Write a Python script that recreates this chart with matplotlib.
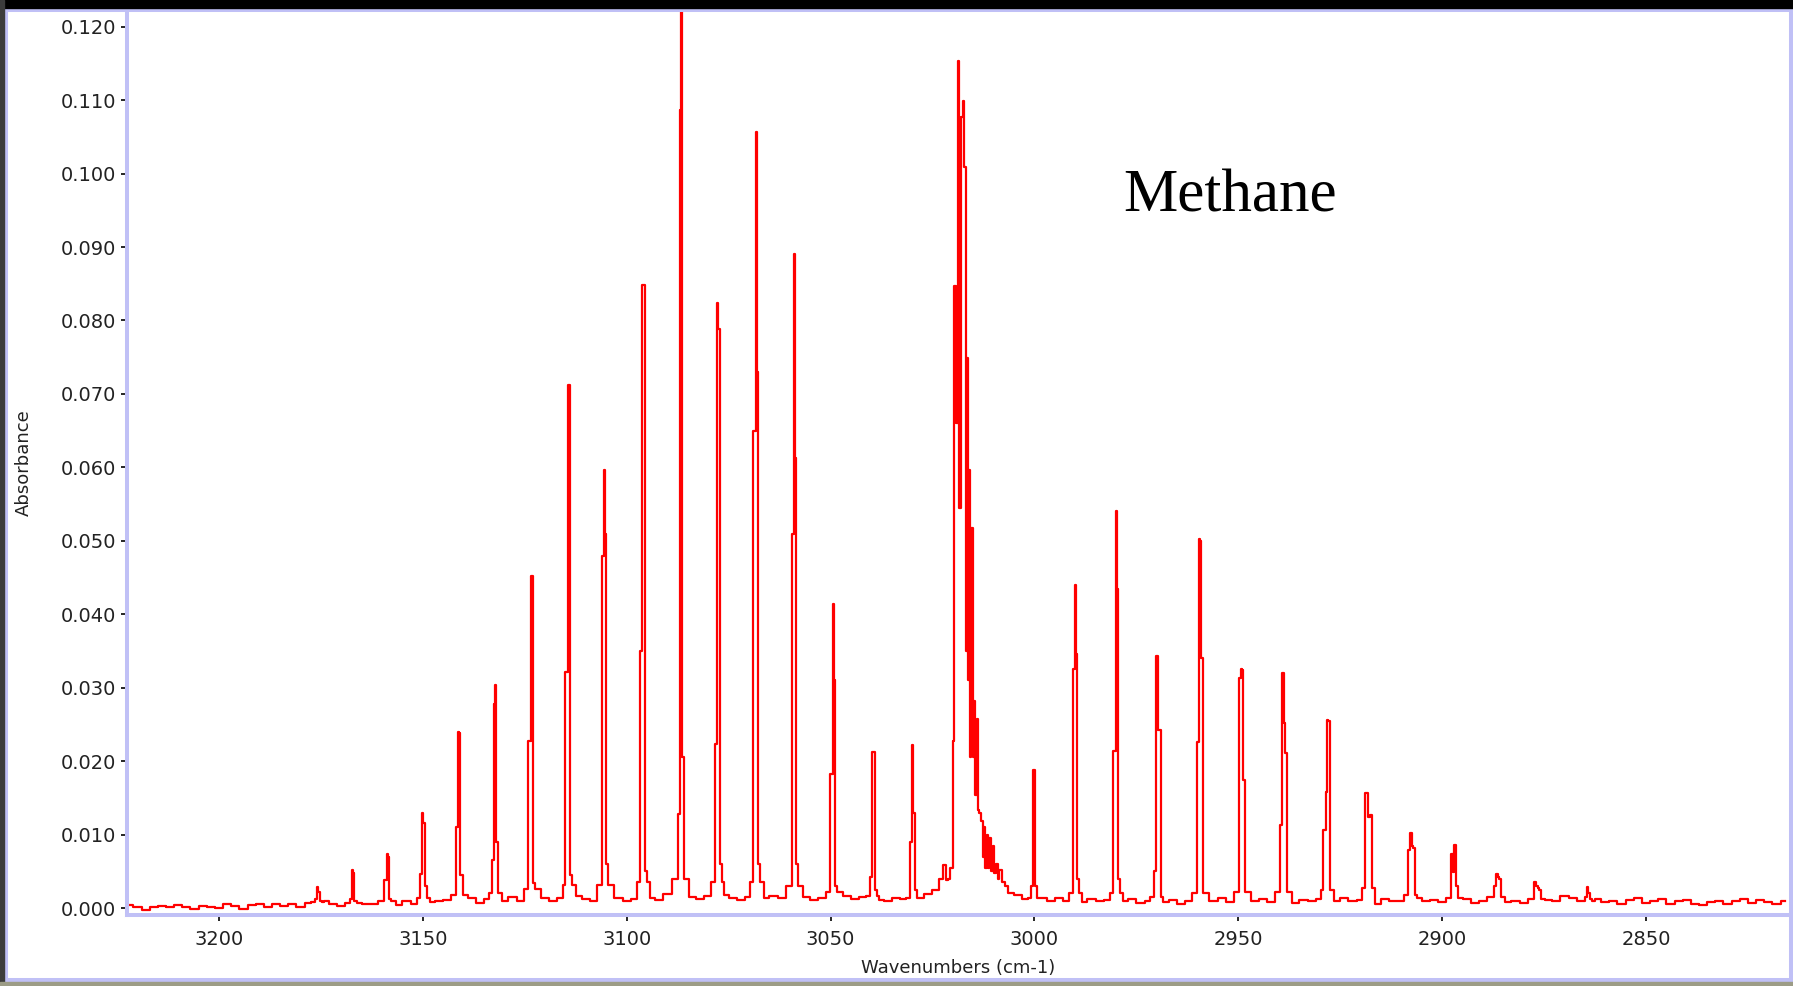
import numpy as np
import matplotlib
matplotlib.use('Agg')
import matplotlib.pyplot as plt
from matplotlib.patches import Rectangle
from matplotlib.ticker import MultipleLocator, FormatStrFormatter

# baseline read every 2 cm-1 (x 0.001 absorbance)
base_wn = np.arange(3222, 2815, -2)
base_abs = np.array([
    0.4, 0.1, -0.3, 0.2, 0.3, 0.1, 0.4, 0.2, -0.1, 0.3,
    0.2, 0.0, 0.5, 0.3, -0.2, 0.4, 0.6, 0.2, 0.5, 0.3,
    0.6, 0.2, 0.7, 0.4, 0.9, 0.5, 0.3, 0.8, -0.4, 0.6,
    0.5, 0.9, 0.7, 0.4, 1.0, 0.6, 1.2, 0.8, 0.9, 1.1,
    1.0, 0.8, 1.3, 0.7, 1.2, 0.9, 1.0, 1.5, 0.9, 1.1,
    1.2, 1.4, 1.0, 1.3, 1.1, 1.6, 1.2, 1.0, 1.4, 1.5,
    1.3, 1.0, 1.2, 1.6, 1.4, 1.1, 1.9, 1.4, 1.7, 1.5,
    1.2, 1.6, 1.3, 1.8, 1.4, 1.1, 1.5, 1.7, 1.3, 1.6,
    1.4, 1.2, 1.7, 1.5, 1.1, 1.3, 1.8, 1.4, 1.6, 1.2,
    1.5, 1.3, 1.1, 1.0, 1.4, 1.2, 1.6, 1.3, 1.9, 2.5,
    4.5, 5.0, 6.0, 8.0, 8.0, 6.0, 5.0, 3.5, 2.5, 1.8,
    1.2, 1.1, 1.4, 0.9, 1.3, 1.0, 1.5, 0.8, 1.2, 1.0,
    1.1, 1.4, 0.9, 1.2, 0.7, 1.0, 1.3, 0.8, 1.1, 0.6,
    1.0, 1.2, 0.7, 0.9, 1.3, 0.8, 1.1, 1.4, 0.9, 1.2,
    0.8, 1.0, 1.3, 0.7, 1.1, 0.9, 1.2, 0.6, 1.0, 1.3,
    0.9, 1.1, 0.7, 0.5, 1.2, 0.9, 1.0, 0.8, 1.3, 0.9,
    1.1, 0.8, 1.4, 0.9, 1.2, 0.7, 1.0, 1.5, 1.1, 0.8,
    1.0, 0.7, 1.2, 0.8, 1.1, 0.9, 1.6, 1.3, 1.0, 0.9,
    1.2, 0.8, 1.0, 0.6, 1.1, 1.3, 0.7, 0.9, 1.2, 0.5,
    0.9, 1.1, 0.6, 0.4, 0.8, 1.0, 0.5, 0.9, 1.2, 0.7,
    1.1, 0.8, 0.6, 0.9,
]) / 1000

# rotational lines: centre, outer shoulder (high wn), core hi, core lo, outer shoulder (low wn), foot
peak_wn = [3175.6, 3167.1, 3158.6, 3149.9, 3141.1, 3132.3, 3123.3, 3114.2, 3105.3, 3095.9,
           3086.7, 3077.5, 3068.1, 3058.7, 3049.2, 3039.5, 3029.7,
           3000.1, 2989.8, 2979.8, 2969.9, 2959.4, 2949.1, 2938.9, 2928.3, 2918.1,
           2907.5, 2897.0, 2886.4, 2876.6, 2864.1]
peak_s1 = [0.0012, 0.0012, 0.0038, 0.0046, 0.0110, 0.0066, 0.0227, 0.0322, 0.0479, 0.0350,
           0.0128, 0.0223, 0.0649, 0.0509, 0.0182, 0.0042, 0.0090,
           0.0030, 0.0326, 0.0214, 0.0050, 0.0226, 0.0313, 0.0113, 0.0106, 0.0156,
           0.0079, 0.0074, 0.0030, 0.0036, 0.0015]
peak_c1 = [0.0028, 0.0052, 0.0074, 0.0130, 0.0240, 0.0278, 0.0452, 0.0712, 0.0596, 0.0848,
           0.1087, 0.0824, 0.1056, 0.0891, 0.0414, 0.0212, 0.0222,
           0.0188, 0.0440, 0.0541, 0.0343, 0.0503, 0.0326, 0.0320, 0.0158, 0.0156,
           0.0102, 0.0049, 0.0047, 0.0030, 0.0029]
peak_c2 = [0.0022, 0.0048, 0.0070, 0.0116, 0.0238, 0.0303, 0.0452, 0.0712, 0.0509, 0.0848,
           0.1250, 0.0788, 0.0730, 0.0613, 0.0311, 0.0212, 0.0130,
           0.0188, 0.0346, 0.0434, 0.0343, 0.0500, 0.0324, 0.0252, 0.0256, 0.0124,
           0.0084, 0.0086, 0.0042, 0.0027, 0.0020]
peak_s2 = [0.0010, 0.0010, 0.0012, 0.0030, 0.0045, 0.0090, 0.0034, 0.0045, 0.0060, 0.0050,
           0.0206, 0.0060, 0.0060, 0.0060, 0.0030, 0.0025, 0.0025,
           0.0030, 0.0040, 0.0040, 0.0242, 0.0340, 0.0174, 0.0211, 0.0254, 0.0127,
           0.0082, 0.0030, 0.0040, 0.0025, 0.0012]
peak_foot = [0.0008, 0.0007, 0.0009, 0.0014, 0.0018, 0.0020, 0.0026, 0.0032, 0.0032, 0.0036,
             0.0040, 0.0036, 0.0036, 0.0030, 0.0022, 0.0016, 0.0014,
             0.0014, 0.0020, 0.0020, 0.0015, 0.0020, 0.0022, 0.0022, 0.0024, 0.0027,
             0.0018, 0.0014, 0.0015, 0.0012, 0.0010]

# Q-branch cluster, point by point
q_wn = [3022.70, 3022.10, 3021.50, 3020.90, 3020.29, 3019.88, 3019.48, 3019.07, 3018.66,
        3018.25, 3017.84, 3017.43, 3017.02, 3016.78, 3016.53, 3016.20, 3015.96, 3015.63,
        3015.31, 3014.98, 3014.65, 3014.32, 3014.00, 3013.67, 3013.34, 3012.94, 3012.53,
        3012.20, 3011.87, 3011.55, 3011.22, 3010.89, 3010.48, 3010.07, 3009.67, 3009.26,
        3008.85, 3008.44, 3007.62, 3006.80, 3005.98]
q_abs = [0.0040, 0.0058, 0.0038, 0.0040, 0.0055, 0.0228, 0.0847, 0.0661, 0.1153,
         0.0545, 0.1077, 0.1099, 0.1009, 0.0350, 0.0749, 0.0310, 0.0597, 0.0206,
         0.0518, 0.0206, 0.0282, 0.0154, 0.0257, 0.0134, 0.0130, 0.0118, 0.0070,
         0.0110, 0.0054, 0.0100, 0.0055, 0.0095, 0.0050, 0.0085, 0.0048, 0.0060,
         0.0040, 0.0052, 0.0035, 0.0030, 0.0020]

# assemble the trace
pts = []
for w, a in zip(base_wn, base_abs):
    if min(abs(w - c) for c in peak_wn) < 1.5:
        continue
    if 3005.5 < w < 3023.2:
        continue
    pts.append((w, a))
for c, s1, c1, c2, s2, f in zip(peak_wn, peak_s1, peak_c1, peak_c2, peak_s2, peak_foot):
    pts += [(c + 1.2, f), (c + 0.45, s1), (c + 0.15, c1),
            (c - 0.15, c2), (c - 0.45, s2), (c - 1.2, f)]
pts += list(zip(q_wn, q_abs))
pts.sort(key=lambda p: -p[0])
wn = [p[0] for p in pts]
ab = [p[1] for p in pts]

W, H = 1793, 986
fig = plt.figure(figsize=(W / 100, H / 100), dpi=100)
fig.patch.set_facecolor('white')

lav = '#c0c0f6'
# window frame
fig.add_artist(Rectangle((0, 1 - 8 / H), 1, 8 / H, transform=fig.transFigure,
                         color='black', zorder=5))
fig.add_artist(Rectangle((0, 0), 4 / W, 1, transform=fig.transFigure,
                         color='#3c3c3c', zorder=5))
fig.add_artist(Rectangle((0, 0), 1, 4 / H, transform=fig.transFigure,
                         color='#9c9c86', zorder=5))
fig.add_artist(Rectangle((6 / W, 6 / H), (1791 - 6) / W, (976 - 6) / H,
                         transform=fig.transFigure, fill=False, edgecolor=lav,
                         linewidth=2.9, zorder=4))

ax = fig.add_axes([127 / W, 1 - 915 / H, (1789 - 127) / W, (915 - 12) / H])
ax.plot(wn, ab, color='#ff0000', lw=1.6, drawstyle='steps-mid')

ax.set_xlim(3222.57, 2814.92)
ax.set_ylim(-0.00095, 0.1220)

ax.xaxis.set_major_locator(MultipleLocator(50))
ax.xaxis.set_minor_locator(MultipleLocator(10))
ax.yaxis.set_major_locator(MultipleLocator(0.01))
ax.yaxis.set_minor_locator(MultipleLocator(0.0025))
ax.yaxis.set_major_formatter(FormatStrFormatter('%.3f'))

for s in ['top', 'right']:
    ax.spines[s].set_visible(False)
for s in ['left', 'bottom']:
    ax.spines[s].set_color(lav)
    ax.spines[s].set_linewidth(2.9)

ax.tick_params(which='major', direction='out', length=4.5, width=1.2, color='black',
               labelsize=14, labelcolor='#222222')
ax.tick_params(axis='y', which='major', pad=3.4)
ax.tick_params(axis='x', which='major', pad=6.0)
ax.tick_params(which='minor', direction='in', length=1.6, width=1.4, color='black')

fig.text(958 / W, 1 - 968 / H, 'Wavenumbers (cm-1)', ha='center', va='center',
         fontsize=13, color='#222222')
fig.text(24 / W, 1 - 463 / H, 'Absorbance', ha='center', va='center', rotation=90,
         fontsize=13, color='#222222')
fig.text(1123 / W, 1 - 212 / H, 'Methane', family='Liberation Serif', fontsize=44,
         va='baseline', ha='left', color='black')

fig.savefig('out.png', dpi=100)
